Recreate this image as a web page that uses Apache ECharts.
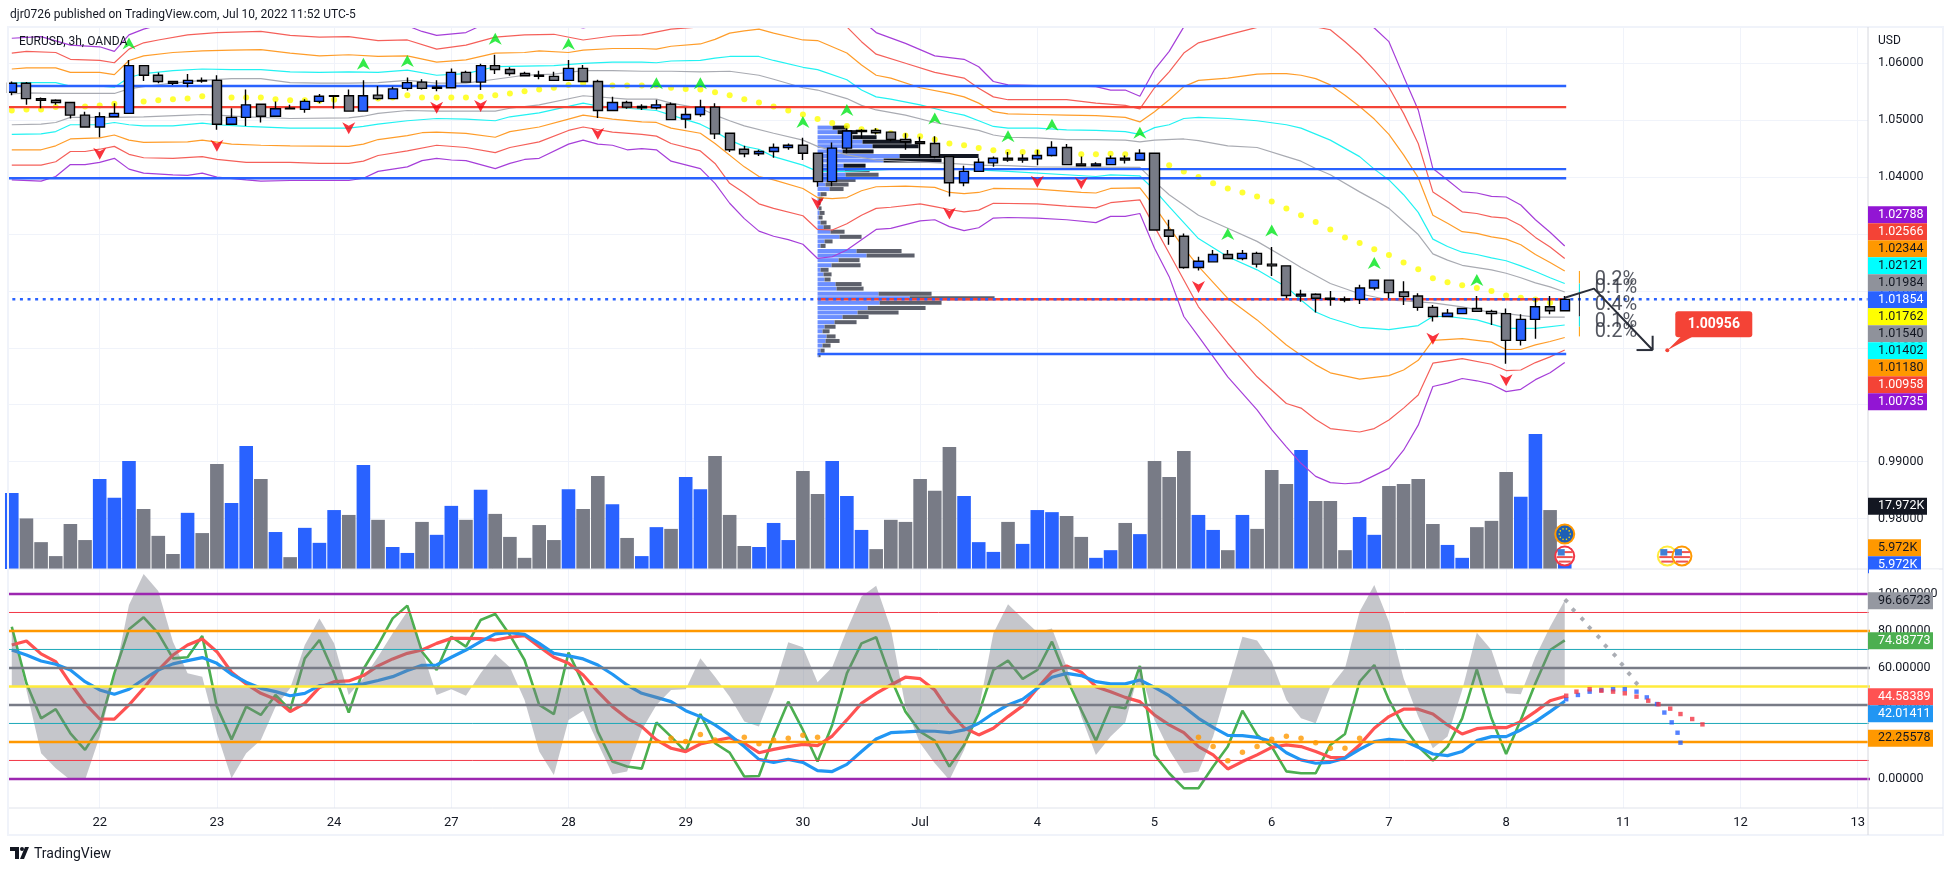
<!DOCTYPE html>
<html>
<head>
<meta charset="utf-8">
<title>EURUSD, 3h, OANDA</title>
<style>
  html, body { margin: 0; padding: 0; background: #fff; }
  #chart { width: 1954px; height: 871px; }
</style>
<script src="https://cdn.jsdelivr.net/npm/echarts@6/dist/echarts.min.js"></script>
</head>
<body>
<div id="chart"></div>
<script>
const FONT = 'Roboto';

// x axis counts 3h bars, bar 0 is the first bar of the 22nd
const firstBar = -6;
const dayBars = [0, 8, 16, 24, 32, 40, 48, 56, 64, 72, 80, 88, 96, 104, 112, 120];
const dayLabels = ['22', '23', '24', '27', '28', '29', '30', 'Jul', '4', '5', '6', '7', '8', '11', '12', '13'];

const barOpen = [
  1.0549,1.0565,1.0538,1.0535,1.0531,1.0509,1.0488,1.0506,1.0512,1.0596,
  1.0579,1.0568,1.0565,1.0570,1.0570,1.0493,1.0505,1.0528,1.0507,1.0521,
  1.0519,1.0533,1.0542,1.0543,1.0516,1.0544,1.0538,1.0556,1.0567,1.0556,
  1.0557,1.0584,1.0567,1.0596,1.0589,1.0582,1.0579,1.0577,1.0570,1.0591,
  1.0568,1.0517,1.0531,1.0522,1.0522,1.0528,1.0502,1.0510,1.0523,1.0477,
  1.0449,1.0441,1.0445,1.0452,1.0456,1.0442,1.0392,1.0451,1.0480,1.0482,
  1.0479,1.0466,1.0462,1.0459,1.0436,1.0390,1.0410,1.0425,1.0433,1.0430,
  1.0432,1.0438,1.0452,1.0423,1.0420,1.0422,1.0433,1.0430,1.0442,1.0307,
  1.0296,1.0241,1.0251,1.0264,1.0257,1.0266,1.0247,1.0244,1.0191,1.0194,
  1.0187,1.0186,1.0185,1.0205,1.0219,1.0198,1.0191,1.0171,1.0155,1.0160,
  1.0169,1.0164,1.0160,1.0113,1.0150,1.0172,1.0165
];
const barClose = [
  1.0565,1.0538,1.0535,1.0531,1.0509,1.0488,1.0506,1.0512,1.0596,1.0579,
  1.0568,1.0565,1.0570,1.0569,1.0493,1.0505,1.0527,1.0507,1.0520,1.0520,
  1.0533,1.0542,1.0543,1.0516,1.0543,1.0538,1.0555,1.0566,1.0556,1.0558,
  1.0584,1.0567,1.0596,1.0589,1.0582,1.0578,1.0577,1.0570,1.0591,1.0568,
  1.0517,1.0531,1.0523,1.0524,1.0527,1.0501,1.0510,1.0523,1.0476,1.0448,
  1.0441,1.0445,1.0452,1.0456,1.0442,1.0392,1.0451,1.0481,1.0482,1.0478,
  1.0466,1.0462,1.0459,1.0436,1.0390,1.0410,1.0426,1.0433,1.0430,1.0433,
  1.0438,1.0452,1.0422,1.0420,1.0423,1.0433,1.0430,1.0442,1.0307,1.0296,
  1.0241,1.0252,1.0264,1.0257,1.0266,1.0247,1.0244,1.0192,1.0194,1.0187,
  1.0185,1.0184,1.0205,1.0219,1.0197,1.0190,1.0171,1.0155,1.0161,1.0169,
  1.0164,1.0160,1.0113,1.0150,1.0172,1.0165,1.0185
];
const barLow = [
  1.0544,1.0527,1.0521,1.0527,1.0503,1.0488,1.0470,1.0505,1.0512,1.0569,
  1.0565,1.0562,1.0558,1.0566,1.0483,1.0493,1.0490,1.0496,1.0507,1.0519,
  1.0513,1.0530,1.0520,1.0516,1.0516,1.0536,1.0538,1.0552,1.0554,1.0551,
  1.0556,1.0567,1.0553,1.0581,1.0578,1.0577,1.0572,1.0570,1.0570,1.0568,
  1.0504,1.0516,1.0520,1.0518,1.0519,1.0501,1.0486,1.0506,1.0467,1.0444,
  1.0435,1.0437,1.0434,1.0448,1.0430,1.0383,1.0384,1.0442,1.0468,1.0475,
  1.0463,1.0448,1.0436,1.0433,1.0366,1.0384,1.0409,1.0418,1.0427,1.0425,
  1.0421,1.0436,1.0422,1.0420,1.0420,1.0422,1.0424,1.0430,1.0307,1.0281,
  1.0239,1.0236,1.0251,1.0257,1.0254,1.0241,1.0226,1.0187,1.0181,1.0162,
  1.0174,1.0180,1.0177,1.0201,1.0187,1.0175,1.0165,1.0146,1.0155,1.0160,
  1.0164,1.0140,1.0072,1.0104,1.0116,1.0159,1.0165
];
const barHigh = [
  1.0568,1.0567,1.0540,1.0537,1.0531,1.0515,1.0514,1.0530,1.0606,1.0596,
  1.0584,1.0568,1.0581,1.0575,1.0579,1.0521,1.0554,1.0528,1.0533,1.0527,
  1.0537,1.0546,1.0543,1.0554,1.0570,1.0560,1.0559,1.0575,1.0572,1.0570,
  1.0591,1.0587,1.0599,1.0615,1.0593,1.0585,1.0587,1.0585,1.0606,1.0597,
  1.0571,1.0541,1.0534,1.0528,1.0536,1.0531,1.0522,1.0536,1.0530,1.0477,
  1.0455,1.0448,1.0459,1.0459,1.0469,1.0442,1.0461,1.0486,1.0484,1.0486,
  1.0479,1.0477,1.0471,1.0472,1.0436,1.0420,1.0433,1.0436,1.0444,1.0440,
  1.0448,1.0463,1.0458,1.0436,1.0426,1.0438,1.0438,1.0449,1.0442,1.0325,
  1.0301,1.0260,1.0272,1.0272,1.0272,1.0269,1.0277,1.0244,1.0202,1.0196,
  1.0200,1.0190,1.0211,1.0220,1.0219,1.0217,1.0196,1.0175,1.0168,1.0169,
  1.0191,1.0167,1.0169,1.0159,1.0187,1.0191,1.0191
];

// volume, in thousands
const volume = [
  21.8,14.5,7.7,3.7,12.9,8.3,25.8,20.4,31.0,17.2,
  9.5,4.3,16.1,10.3,30.1,18.9,35.3,25.8,10.6,3.4,
  11.8,7.5,16.9,15.5,29.8,14.1,6.3,4.6,13.5,9.8,
  18.1,14.1,22.7,15.8,9.2,3.2,12.6,8.3,22.9,17.2,
  26.7,18.6,8.9,3.7,12.0,11.5,26.4,22.9,32.4,15.5,
  6.6,6.3,13.2,8.3,28.1,21.5,31.0,20.9,11.2,5.7,
  14.1,13.5,25.8,22.4,35.0,20.9,7.7,4.9,13.5,7.2,
  16.9,16.3,15.2,9.2,3.2,5.4,13.2,10.0,31.0,26.4,
  33.8,15.5,11.2,5.4,15.5,11.5,28.4,24.4,34.1,19.5,
  19.5,5.4,14.9,9.8,23.8,24.4,25.8,12.9,6.9,3.2,
  12.0,13.8,27.8,20.7,38.7,16.9,5.972
];
const volumeMa = [
  [-6,14.8],[-5,14.7],[-3,12.9],[-1,11.4],[1,13.0],[3,14.2],[5,13.0],[7,13.4],[9,15.5],[11,17.6],
  [13,16.3],[15,15.5],[17,16.6],[19,17.8],[21,15.9],[23,14.6],[25,15.8],[27,16.3],[29,14.7],[31,12.3],
  [33,14.1],[35,15.2],[37,14.1],[38,13.1],[39,13.0],[41,14.5],[43,16.3],[45,15.4],[47,14.3],[49,15.8],
  [51,17.8],[53,16.6],[55,15.7],[57,17.4],[59,19.2],[61,17.6],[63,15.9],[65,16.9],[67,17.1],[69,15.2],
  [71,13.7],[72,14.5],[74,16.7],[75,16.8],[77,15.2],[79,13.8],[81,15.5],[82,16.7],[84,17.6],[85,16.9],
  [87,16.9],[89,19.0],[91,19.7],[94,16.2],[95,16.2],[98,19.0],[99,19.2],[100,17.972]
];

// envelope bands, [bar, price]; the parts outside the pane are estimates
const purpleUp = [
  [-6,1.0644],[-4,1.0647],[-2,1.0632],[0,1.0629],[1,1.0621],[2,1.0650],[3,1.0660],[4,1.0667],[8,1.0682],[14,1.0685],
  [20,1.0676],[22,1.0656],[23,1.0649],[25,1.0654],[26,1.0666],[30,1.0670],[32,1.0667],[33,1.0662],[34,1.0667],[40,1.0688],
  [48,1.0694],[52,1.0676],[53,1.0654],[55,1.0635],[57,1.0613],[59,1.0607],[60,1.0594],[61,1.0568],[62,1.0562],[64,1.0561],
  [67,1.0560],[68,1.0559],[69,1.0553],[70,1.0553],[71,1.0542],[72,1.0589],[73,1.0621],[74,1.0664],[76,1.0700],[84,1.0700],
  [87,1.0662],[88,1.0638],[89,1.0577],[90,1.0518],[91,1.0415],[92,1.0395],[93,1.0374],[94,1.0372],[95,1.0366],[96,1.0365],
  [97,1.0351],[98,1.0325],[99,1.0303],[100,1.0279]
];
const redUp = [
  [-6,1.0618],[-5,1.0621],[-3,1.0619],[-2,1.0607],[0,1.0605],[1,1.0601],[2,1.0625],[3,1.0636],[4,1.0641],[6,1.0650],
  [8,1.0654],[11,1.0656],[13,1.0649],[15,1.0646],[17,1.0647],[19,1.0640],[21,1.0641],[23,1.0625],[25,1.0632],[27,1.0646],
  [29,1.0650],[31,1.0651],[33,1.0641],[35,1.0648],[37,1.0650],[39,1.0660],[41,1.0664],[44,1.0676],[48,1.0685],[50,1.0673],
  [51,1.0664],[52,1.0638],[53,1.0616],[55,1.0600],[57,1.0584],[59,1.0574],[60,1.0556],[61,1.0541],[62,1.0536],[64,1.0536],
  [66,1.0536],[68,1.0530],[70,1.0526],[71,1.0520],[72,1.0557],[73,1.0585],[74,1.0618],[75,1.0636],[77,1.0650],[79,1.0663],
  [81,1.0673],[83,1.0664],[84,1.0659],[85,1.0638],[86,1.0615],[87,1.0588],[88,1.0558],[89,1.0512],[90,1.0459],[91,1.0374],
  [92,1.0357],[93,1.0339],[94,1.0336],[95,1.0330],[96,1.0328],[97,1.0315],[98,1.0294],[99,1.0277],[100,1.0257]
];
const orangeUp = [
  [-6,1.0590],[-5,1.0592],[-3,1.0592],[-2,1.0584],[0,1.0584],[1,1.0580],[2,1.0605],[3,1.0613],[5,1.0619],[7,1.0622],
  [9,1.0623],[11,1.0624],[13,1.0618],[15,1.0613],[17,1.0615],[19,1.0612],[21,1.0613],[23,1.0602],[25,1.0606],[27,1.0618],
  [29,1.0619],[30,1.0622],[32,1.0619],[33,1.0623],[35,1.0626],[37,1.0626],[38,1.0625],[39,1.0630],[41,1.0634],[42,1.0642],
  [43,1.0653],[44,1.0657],[45,1.0660],[46,1.0653],[48,1.0641],[49,1.0640],[51,1.0618],[52,1.0597],[53,1.0579],[54,1.0574],
  [56,1.0557],[58,1.0547],[59,1.0541],[60,1.0530],[61,1.0515],[62,1.0511],[64,1.0510],[66,1.0509],[68,1.0508],[70,1.0505],
  [71,1.0497],[72,1.0515],[73,1.0536],[74,1.0559],[75,1.0570],[77,1.0574],[79,1.0581],[80,1.0582],[81,1.0582],[82,1.0579],
  [83,1.0573],[84,1.0562],[85,1.0544],[86,1.0524],[87,1.0502],[88,1.0475],[89,1.0439],[90,1.0399],[91,1.0333],[92,1.0319],
  [93,1.0304],[94,1.0301],[95,1.0295],[96,1.0291],[97,1.0281],[98,1.0264],[99,1.0250],[100,1.0235]
];
const cyanUp = [
  [-6,1.0565],[-5,1.0566],[-3,1.0566],[-2,1.0560],[0,1.0560],[1,1.0558],[2,1.0575],[3,1.0582],[5,1.0587],[7,1.0590],
  [9,1.0589],[11,1.0589],[13,1.0585],[15,1.0584],[17,1.0585],[19,1.0584],[21,1.0588],[23,1.0579],[25,1.0582],[27,1.0594],
  [29,1.0595],[31,1.0596],[33,1.0600],[35,1.0602],[37,1.0602],[38,1.0601],[39,1.0604],[41,1.0605],[42,1.0609],[43,1.0612],
  [45,1.0612],[46,1.0605],[48,1.0593],[49,1.0589],[51,1.0571],[52,1.0553],[53,1.0541],[54,1.0537],[56,1.0527],[58,1.0514],
  [59,1.0509],[60,1.0499],[61,1.0489],[62,1.0486],[64,1.0486],[66,1.0483],[68,1.0482],[70,1.0480],[71,1.0475],[72,1.0487],
  [73,1.0492],[74,1.0503],[75,1.0505],[77,1.0503],[79,1.0499],[81,1.0492],[82,1.0486],[84,1.0465],[86,1.0436],[87,1.0414],
  [88,1.0395],[89,1.0369],[90,1.0338],[91,1.0291],[92,1.0278],[93,1.0268],[94,1.0264],[95,1.0258],[96,1.0253],[97,1.0244],
  [98,1.0234],[99,1.0223],[100,1.0213]
];
const grayUp = [
  [-6,1.0546],[-5,1.0548],[-3,1.0547],[0,1.0547],[1,1.0547],[2,1.0555],[3,1.0559],[5,1.0565],[7,1.0570],[9,1.0573],
  [11,1.0573],[13,1.0566],[15,1.0565],[17,1.0565],[19,1.0566],[21,1.0570],[23,1.0565],[25,1.0565],[27,1.0572],[29,1.0579],
  [31,1.0581],[33,1.0587],[35,1.0587],[37,1.0586],[39,1.0586],[41,1.0585],[43,1.0586],[45,1.0579],[46,1.0572],[48,1.0557],
  [49,1.0553],[51,1.0538],[52,1.0526],[53,1.0518],[55,1.0509],[57,1.0496],[59,1.0487],[60,1.0482],[61,1.0474],[62,1.0470],
  [64,1.0469],[66,1.0466],[68,1.0466],[70,1.0465],[71,1.0462],[72,1.0465],[74,1.0467],[75,1.0464],[77,1.0455],[79,1.0452],
  [81,1.0436],[82,1.0428],[83,1.0415],[84,1.0404],[86,1.0374],[87,1.0360],[88,1.0345],[89,1.0322],[90,1.0299],[91,1.0265],
  [92,1.0254],[93,1.0245],[94,1.0241],[95,1.0237],[96,1.0231],[97,1.0223],[98,1.0214],[99,1.0207],[100,1.0198]
];
const grayLow = [
  [-6,1.0492],[-4,1.0493],[-3,1.0496],[-2,1.0505],[0,1.0505],[1,1.0505],[3,1.0506],[6,1.0509],[7,1.0510],[8,1.0509],
  [10,1.0506],[13,1.0503],[17,1.0504],[18,1.0507],[19,1.0512],[21,1.0517],[23,1.0516],[27,1.0516],[28,1.0521],[30,1.0527],
  [33,1.0543],[36,1.0537],[38,1.0537],[39,1.0530],[41,1.0521],[42,1.0509],[43,1.0499],[44,1.0490],[46,1.0477],[48,1.0465],
  [49,1.0454],[51,1.0439],[53,1.0430],[58,1.0424],[60,1.0421],[62,1.0420],[64,1.0418],[71,1.0417],[72,1.0392],[73,1.0369],
  [75,1.0333],[77,1.0310],[79,1.0287],[81,1.0257],[82,1.0241],[84,1.0213],[86,1.0195],[88,1.0184],[91,1.0179],[93,1.0172],
  [95,1.0162],[96,1.0160],[98,1.0154],[100,1.0154]
];
const cyanLow = [
  [-6,1.0475],[-4,1.0476],[-3,1.0480],[-2,1.0492],[0,1.0492],[1,1.0496],[2,1.0492],[3,1.0490],[5,1.0490],[7,1.0495],
  [8,1.0492],[10,1.0489],[13,1.0486],[17,1.0486],[18,1.0489],[19,1.0493],[21,1.0499],[23,1.0503],[25,1.0502],[27,1.0499],
  [28,1.0506],[30,1.0513],[33,1.0530],[34,1.0525],[36,1.0521],[38,1.0517],[39,1.0509],[41,1.0493],[42,1.0480],[43,1.0465],
  [44,1.0454],[45,1.0449],[46,1.0436],[48,1.0421],[49,1.0410],[51,1.0410],[55,1.0415],[58,1.0415],[62,1.0410],[68,1.0401],
  [69,1.0404],[71,1.0402],[72,1.0377],[73,1.0348],[75,1.0292],[77,1.0260],[79,1.0237],[81,1.0207],[82,1.0184],[83,1.0163],
  [84,1.0152],[86,1.0136],[88,1.0132],[90,1.0139],[91,1.0155],[92,1.0155],[94,1.0149],[96,1.0134],[98,1.0134],[100,1.0140]
];
const orangeLow = [
  [-6,1.0448],[-4,1.0448],[-3,1.0455],[-2,1.0467],[0,1.0469],[1,1.0474],[2,1.0465],[3,1.0461],[6,1.0462],[7,1.0465],
  [9,1.0458],[11,1.0456],[13,1.0455],[17,1.0454],[18,1.0458],[19,1.0466],[21,1.0473],[22,1.0478],[23,1.0479],[25,1.0477],
  [27,1.0470],[28,1.0480],[30,1.0488],[32,1.0502],[33,1.0509],[35,1.0502],[37,1.0497],[38,1.0496],[39,1.0486],[41,1.0477],
  [42,1.0459],[44,1.0418],[45,1.0401],[46,1.0395],[48,1.0380],[49,1.0364],[50,1.0362],[51,1.0364],[52,1.0376],[53,1.0383],
  [55,1.0384],[57,1.0382],[58,1.0373],[59,1.0371],[60,1.0373],[61,1.0380],[64,1.0379],[67,1.0373],[68,1.0372],[69,1.0380],
  [71,1.0381],[72,1.0348],[74,1.0275],[75,1.0243],[77,1.0187],[79,1.0149],[81,1.0105],[82,1.0087],[83,1.0070],[84,1.0056],
  [86,1.0045],[88,1.0051],[89,1.0061],[90,1.0078],[91,1.0113],[93,1.0116],[95,1.0110],[96,1.0097],[97,1.0097],[98,1.0105],
  [99,1.0111],[100,1.0118]
];
const redLow = [
  [-6,1.0421],[-4,1.0421],[-3,1.0427],[-2,1.0445],[-1,1.0445],[0,1.0449],[1,1.0454],[2,1.0440],[3,1.0434],[5,1.0433],
  [7,1.0436],[8,1.0431],[10,1.0426],[13,1.0426],[15,1.0424],[17,1.0424],[18,1.0428],[19,1.0438],[21,1.0446],[23,1.0456],
  [25,1.0452],[27,1.0443],[28,1.0452],[30,1.0462],[32,1.0482],[33,1.0488],[35,1.0479],[37,1.0475],[38,1.0472],[39,1.0459],
  [41,1.0446],[42,1.0424],[43,1.0389],[44,1.0372],[45,1.0353],[46,1.0345],[48,1.0332],[49,1.0308],[50,1.0307],[51,1.0318],
  [52,1.0333],[53,1.0345],[54,1.0347],[56,1.0353],[57,1.0348],[58,1.0343],[59,1.0339],[60,1.0342],[61,1.0354],[64,1.0353],
  [66,1.0349],[68,1.0346],[69,1.0355],[71,1.0360],[72,1.0313],[73,1.0266],[74,1.0219],[75,1.0172],[77,1.0108],[79,1.0049],
  [81,1.0002],[82,0.9994],[83,0.9974],[84,0.9958],[86,0.9952],[87,0.9958],[88,0.9973],[89,0.9994],[90,1.0017],[91,1.0073],
  [93,1.0081],[95,1.0071],[96,1.0060],[97,1.0061],[98,1.0074],[99,1.0084],[100,1.0096]
];
const purpleLow = [
  [-6,1.0395],[-4,1.0393],[-3,1.0401],[-2,1.0422],[-1,1.0422],[0,1.0426],[1,1.0433],[2,1.0414],[3,1.0407],[5,1.0404],
  [6,1.0403],[7,1.0407],[8,1.0400],[10,1.0395],[11,1.0393],[13,1.0394],[17,1.0394],[18,1.0398],[19,1.0410],[21,1.0418],
  [22,1.0429],[23,1.0433],[24,1.0430],[25,1.0429],[27,1.0415],[28,1.0424],[29,1.0431],[30,1.0433],[32,1.0458],[33,1.0465],
  [34,1.0458],[35,1.0456],[36,1.0448],[37,1.0450],[38,1.0448],[39,1.0428],[41,1.0415],[42,1.0389],[43,1.0354],[44,1.0327],
  [45,1.0305],[46,1.0296],[47,1.0290],[48,1.0282],[49,1.0257],[50,1.0260],[51,1.0272],[52,1.0290],[53,1.0308],[54,1.0310],
  [56,1.0323],[57,1.0325],[58,1.0313],[59,1.0306],[60,1.0311],[61,1.0328],[62,1.0329],[64,1.0328],[66,1.0325],[68,1.0320],
  [69,1.0331],[70,1.0331],[71,1.0336],[72,1.0275],[73,1.0225],[74,1.0155],[75,1.0120],[77,1.0049],[79,0.9991],[80,0.9956],
  [81,0.9926],[82,0.9897],[83,0.9874],[84,0.9863],[85,0.9861],[86,0.9863],[88,0.9888],[89,0.9920],[90,0.9964],[91,1.0032],
  [92,1.0038],[93,1.0046],[94,1.0042],[95,1.0036],[96,1.0023],[97,1.0027],[98,1.0044],[99,1.0056],[100,1.0074]
];
const yellowDots = [
  1.0517,1.0519,1.0519,1.0523,1.0524,1.0524,1.0526,1.0529,1.0532,1.0533,
  1.0535,1.0537,1.0538,1.0542,1.0541,1.0540,1.0540,1.0540,1.0537,1.0535,
  1.0535,1.0534,1.0536,1.0537,1.0537,1.0538,1.0540,1.0544,1.0540,1.0540,
  1.0540,1.0540,1.0541,1.0544,1.0547,1.0551,1.0554,1.0557,1.0562,1.0565,
  1.0562,1.0561,1.0561,1.0561,1.0561,1.0557,1.0555,1.0554,1.0549,1.0544,
  1.0537,1.0531,1.0524,1.0517,1.0510,1.0502,1.0495,1.0490,1.0484,1.0481,
  1.0477,1.0473,1.0472,1.0466,1.0459,1.0456,1.0451,1.0447,1.0444,1.0444,
  1.0444,1.0442,1.0441,1.0440,1.0440,1.0441,1.0440,1.0436,1.0430,1.0421,
  1.0410,1.0400,1.0389,1.0380,1.0373,1.0366,1.0357,1.0345,1.0333,1.0321,
  1.0308,1.0294,1.0284,1.0273,1.0263,1.0250,1.0238,1.0222,1.0215,1.0210,
  1.0205,1.0200,1.0192,1.0188,1.0185,1.0179,1.0176
];

const arrowsUp = [
  [2,1.0635],[18,1.0599],[21,1.0604],[27,1.0643],[32,1.0634],[38,1.0565],[41,1.0565],[48,1.0497],[51,1.0518],
  [57,1.0503],[62,1.0472],[65,1.0492],[71,1.0478],[77,1.0300],[80,1.0306],[87,1.0249],[94,1.0219]
];
const arrowsDown = [
  [0,1.0441],[8,1.0455],[17,1.0486],[23,1.0522],[26,1.0525],[34,1.0476],[49,1.0354],[58,1.0336],[64,1.0392],
  [67,1.0389],[75,1.0207],[91,1.0116],[96,1.0043]
];

// horizontal levels: [from bar, price]
const blueLevels = [[-7,1.0560],[-7,1.0398],[49,1.0414],[49,1.0089]];
const redLevels = [[-7,1.0523],[49,1.01854]];
const levelEnd = 100.1;
const lastPrice = 1.01854;

// volume profile rows at bar 49
const vpPrice = [
  1.0487,1.0479,1.0470,1.0462,1.0454,1.0445,1.0437,1.0429,1.0420,1.0412,
  1.0404,1.0395,1.0387,1.0379,1.0370,1.0362,1.0354,1.0345,1.0337,1.0329,
  1.0320,1.0312,1.0304,1.0295,1.0287,1.0279,1.0270,1.0262,1.0254,1.0245,
  1.0237,1.0229,1.0220,1.0212,1.0204,1.0195,1.0187,1.0179,1.0170,1.0162,
  1.0154,1.0145,1.0137,1.0129,1.0120,1.0112,1.0104,1.0095,1.0087
];
const vpUp = [
  15,20,35,45,55,25,82,66,26,27,
  28,9,8,12,3,1,1,1,2,1,
  3,6,13,22,7,3,39,49,21,14,
  3,6,7,18,19,61,92,62,50,40,
  25,17,7,5,9,8,5,3,1
];
const vpDown = [
  15,20,24,49,46,31,79,58,22,25,
  33,29,23,14,6,4,2,3,5,4,
  6,7,14,22,8,5,45,48,21,29,
  8,8,6,26,27,53,85,62,58,41,
  26,22,11,7,9,14,8,4,2
];
const vpStart = 49;
const vpUnit = 1 / 14.65;

// the small range marker after the last bar
const rangeBar = 101;
const rangeLevels = [1.0235, 1.0213, 1.0196, 1.0155, 1.0137, 1.0120];
const rangeColors = ['#ff9800', '#00e5e5', '#131722', '#00e5e5', '#ff9800'];
const rangeTexts = ['0.2%', '0.1%', '0.4%', '0.1%', '0.2%'];
const rangeTextPrices = [1.0219, 1.0205, 1.0175, 1.0145, 1.0128];
const forecastPath = [[100,1.0188],[102,1.0204],[106,1.0096],[106,1.0121]];
const forecastHead = [[104.9,1.0096],[106,1.0096]];
const targetBar = 107;
const targetPrice = 1.00956;

const priceTicks = [0.98, 0.99, 1.00, 1.01, 1.02, 1.03, 1.04, 1.05, 1.06];
const oscTicks = [0, 20, 40, 60, 80, 100];

const priceTags = ['1.02788','1.02566','1.02344','1.02121','1.01984','1.01854','1.01762','1.01540','1.01402','1.01180','1.00958','1.00735'];
const priceTagBg = ['#9215d4','#f44336','#ff9800','#00ffff','#8f929b','#2962ff','#ffff00','#8f929b','#00ffff','#ff9800','#f44336','#9215d4'];
const priceTagFg = ['#fff','#fff','#131722','#131722','#131722','#fff','#131722','#131722','#131722','#131722','#fff','#fff'];

// oscillator pane
const oscLevels = [100, 90, 80, 70, 60, 50, 40, 30, 20, 10, 0];
const oscLevelColors = ['#9c27b0','#f23645','#ff9800','#1ca8b8','#787b86','#ffeb3b','#787b86','#1ca8b8','#ff9800','#f23645','#9c27b0'];
const oscLevelWidths = [2.4, 1, 2.4, 1, 2.4, 2.4, 2.4, 1, 2.4, 1, 2.4];

const oscArea = [
  81.4,48.1,13.9,5.8,-0.5,-0.5,22.9,55.3,94.1,110.8,
  101.6,74.2,57.1,55.3,24.7,0.4,13.9,21.1,39.1,49,
  72.4,86.8,73.3,45.4,54.4,66.1,78.7,90.5,69.7,45.4,
  48.5,45,57.1,67.6,60.4,42.7,14.8,2.2,31.9,36.9,
  19.3,2.5,4,26.5,40,
  48.1,48.5,65.2,55.3,44.5,31,28.3,48.1,73.9,71.2,
  52.3,60.4,80.5,98.6,104.5,81.4,39.1,19.3,8.5,-0.5,
  15.7,37.3,78.7,94.4,86.8,79.3,81.4,60.7,33.7,13,
  22.9,30.5,59.8,31.9,15.7,3.1,4,22.9,49.9,76.9,
  74.8,63.4,42.7,32.8,
  30.1,49.9,59.8,90.5,104.9,85,54.4,33.7,16.6,22.9,
  48.1,79.1,69.7,46.3,45.8,66.1,82.3,96.67
];
const oscGreen = [
  82.3,51.7,32.8,37.7,24.7,15.7,28.3,57.1,80.9,87.4,
  78.7,65.2,65.8,77.3,39.1,21.4,39.1,34.6,45.4,37.3,
  65.2,75.1,57.1,35.9,59.3,72.4,86.8,93.7,68.8,58.9,
  76.9,71.5,85.9,89.2,77.8,64.3,40,35,68.3,51.7,
  25.6,9.4,6.7,5.6,30.5,
  22.9,14.8,35.1,19.3,14.2,1.3,1.6,22.9,41.8,26.5,
  9.4,29.2,57.1,73.3,76.6,54.4,36.4,25.6,20.7,6.7,
  18.4,35.5,58.9,64,54.1,58.9,74.2,54.4,37.3,20.7,
  39.5,38.2,61.1,13,3.1,-5,-5,6.7,17.5,36.9,
  23.8,17.5,4.1,3.1,
  3.1,18.4,24.3,52.6,61.6,42.7,28.3,17.5,9.9,17.5,
  32.8,59.3,32.8,13.5,31.9,51.7,69.7,74.89
];
const oscRed = [
  72.4,74.6,67.6,63.4,51.7,40.9,32.4,32.3,40,49,
  58.9,67,72.4,75.7,68.8,57.7,51.4,46.3,43.1,36.4,
  40.9,49.5,52.6,53,55.9,61.1,64.9,67.9,69.7,73.3,
  76,76,75.9,75.1,76.6,77.5,71.5,65.8,62.5,56.2,
  47.2,39.1,32.8,28.3,21.1,
  16.6,14.8,18.9,20.7,22.3,19.3,14.2,16,17.5,18.7,
  18,23.2,31.9,40.9,46.3,50.8,55,54.2,48.1,36.4,
  27.7,23.8,27.4,33.7,39.5,49,58,61.1,57.7,49.9,
  47.2,44.1,41.8,34.6,29.2,25,17.5,13,5.4,9.4,
  13,17.1,18.4,17.5,
  14.8,11.7,11.5,18.4,27.4,33.7,37.7,37.7,35.1,29.2,
  24.3,27.2,27.9,27.7,31,36.4,42.3,44.58
];
const oscBlue = [
  69.7,67,63.8,62,58.9,52.6,48.1,45.8,48.5,53.9,
  58.9,62.2,64,65.6,62.5,56.6,52.3,49,47.2,45,
  46.3,50.5,50.8,50.6,51.4,53.2,55.3,58.6,61.4,61.6,
  65.8,69.7,74.2,78.4,79.1,78.2,73.3,67.9,66.5,64.9,
  61.6,56.6,50.8,46.3,44.1,
  41.8,36.9,33.7,29.2,23.8,17.5,10.6,9,10.6,9,
  4.5,4,7.9,14.8,21.6,25,25.4,25.9,25.8,25,
  26.5,30.1,35.5,40,43.1,49,55,57.1,55.9,52.6,
  51.4,51.4,53.5,49.5,45,39.1,32.8,27.9,23.6,23.4,
  22.5,20.2,14.2,10.3,
  8.5,9,11.2,16,20.2,21.4,20.7,17.1,13.5,12.6,
  14.8,20.7,22.9,22.9,26.5,31,36.4,42.01
];
const oscOrangeDots = [
  [39,22],[40,20.2],[41,24.1],[42,21.1],[44,22.5],[45,19.1],[46,21.1],[47,22],[48,23.6],[49,22.5],
  [75,22.5],[76,17.5],[77,9.9],[78,14.4],[79,17.5],[80,21.4],[81,23.1],[82,22],[83,19.6],[84,16.6],[85,16.6],[86,22]
];
const forecastGray = [
  [100.1,96.4],[100.6,91.4],[101.2,86.5],[101.7,81.8],[102.3,76.9],[102.8,71.9],[103.4,67],[103.9,62],[104.4,56.9],[104.9,51.7]
];
const forecastBlue = [
  [100.1,43.1],[100.9,45.4],[101.7,47.2],[102.5,48.1],[103.3,48.5],[104.1,48.5],[104.9,47.2],[105.6,44.1],[106.3,40.5],
  [106.8,35.9],[107.3,30.6],[107.7,25],[107.9,19.6]
];
const forecastRed = [
  [100.1,45],[100.8,47.2],[101.7,48.5],[102.5,47.7],[103.3,47.2],[104.1,46.3],[104.9,44.5],[105.7,42.3],[106.4,40.4],
  [107.2,38],[107.9,35.1],[108.7,32.4],[109.4,29.5]
];
const oscTags = ['96.66723','74.88773','44.58389','42.01411','22.25578'];
const oscTagY = [600.7, 640.7, 696.7, 713.7, 738.3];
const oscTagBg = ['#9598a1','#4caf50','#ff5252','#2196f3','#ff9800'];
const oscTagFg = ['#131722','#fff','#fff','#fff','#131722'];

// event flags: [bar, height on the volume scale, kind, ring colour]
const flags = [
  [100, 10, 'eu', '#ff9800'],
  [100, 3.7, 'us', '#f23645'],
  [107, 3.7, 'us', '#ffeb3b'],
  [108, 3.7, 'us', '#ff9800']
];

const BLUE = '#2962ff';
const GRAY = '#787b86';
const INK = '#131722';

const xIndex = function(k) { return firstBar + k; };
const seq = function(vals) { return vals.map(function(v, k) { return [xIndex(k), v]; }); };

const candles = barOpen.map(function(o, k) {
  return [xIndex(k), o, barClose[k], barLow[k], barHigh[k]];
});
const volumeBars = volume.map(function(v, k) {
  return {
    value: [xIndex(k), v],
    itemStyle: { color: barClose[k] >= barOpen[k] ? BLUE : GRAY }
  };
});
const vpRows = vpPrice.map(function(p, k) { return [vpStart, p, vpUp[k], vpDown[k]]; });

function priceLine(data, color, width, z) {
  return {
    type: 'line', data: data, xAxisIndex: 0, yAxisIndex: 0, symbol: 'none', silent: true,
    lineStyle: { color: color, width: width }, z: z
  };
}
function oscLine(data, color, width, z) {
  return {
    type: 'line', data: data, xAxisIndex: 1, yAxisIndex: 2, symbol: 'none', silent: true,
    lineStyle: { color: color, width: width }, z: z
  };
}
function oscDots(data, color, size, symbol, z) {
  return {
    type: 'scatter', data: data, xAxisIndex: 1, yAxisIndex: 2, symbol: symbol, symbolSize: size, silent: true,
    itemStyle: { color: color }, z: z
  };
}

const arrowPath = 'path://M5 0 L10 10 L5 7 L0 10 Z';

function renderProfile(params, api) {
  const price = api.value(1);
  const a = api.coord([api.value(0), price]);
  const b = api.coord([api.value(0) + api.value(2) * vpUnit, price]);
  const c = api.coord([api.value(0) + (api.value(2) + api.value(3)) * vpUnit, price]);
  const dark = price > 1.0415;
  return {
    type: 'group',
    children: [
      { type: 'rect', shape: { x: a[0], y: a[1] - 2, width: b[0] - a[0], height: 4 }, style: { fill: '#6c8fff' } },
      { type: 'rect', shape: { x: b[0], y: a[1] - 2, width: c[0] - b[0], height: 4 }, style: { fill: dark ? '#131722' : '#5d606b' } }
    ]
  };
}

function renderTarget(params, api) {
  const p = api.coord([api.value(0), api.value(1)]);
  const x = p[0], y = p[1];
  return {
    type: 'group',
    children: [
      { type: 'polygon', shape: { points: [[x, y], [x + 14, y - 14], [x + 26, y - 14]] }, style: { fill: '#f44336' } },
      { type: 'rect', shape: { x: x + 8, y: y - 39, width: 77, height: 26, r: 3 }, style: { fill: '#f44336' } },
      { type: 'circle', shape: { cx: x, cy: y, r: 2 }, style: { fill: '#f44336' } },
      {
        type: 'text', x: x + 46.5, y: y - 26,
        style: { text: targetPrice.toFixed(5), fill: '#fff', font: 'bold 14px ' + FONT, textAlign: 'center', textVerticalAlign: 'middle' }
      }
    ]
  };
}

function renderFlag(params, api) {
  const p = api.coord([api.value(0), api.value(1)]);
  const x = p[0], y = p[1];
  const f = flags[params.dataIndex];
  const kids = [];
  if (f[2] === 'eu') {
    kids.push({ type: 'circle', shape: { cx: x, cy: y, r: 9.5 }, style: { fill: '#1d5fb4', stroke: f[3], lineWidth: 2 } });
    for (let a = 0; a < 10; a++) {
      kids.push({
        type: 'circle',
        shape: { cx: x + 5.5 * Math.cos(a * Math.PI / 5), cy: y + 5.5 * Math.sin(a * Math.PI / 5), r: 0.8 },
        style: { fill: '#ffd500' }
      });
    }
  } else {
    kids.push({ type: 'circle', shape: { cx: x, cy: y, r: 9.5 }, style: { fill: '#fff', stroke: f[3], lineWidth: 2 } });
    kids.push({ type: 'rect', shape: { x: x - 1, y: y - 5, width: 9, height: 2 }, style: { fill: '#ef5350' } });
    kids.push({ type: 'rect', shape: { x: x - 8, y: y + 0, width: 16, height: 2 }, style: { fill: '#ef5350' } });
    kids.push({ type: 'rect', shape: { x: x - 6, y: y + 4.5, width: 12, height: 2 }, style: { fill: '#ef5350' } });
    kids.push({ type: 'rect', shape: { x: x - 7, y: y - 7, width: 7, height: 6.5 }, style: { fill: '#3f7fd6' } });
  }
  return { type: 'group', children: kids };
}

const series = [
  {
    type: 'bar', data: volumeBars, xAxisIndex: 0, yAxisIndex: 1, barWidth: 13.6, silent: true, z: 1
  },
  priceLine(volumeMa, '#2a2e39', 1, 2),
  {
    type: 'custom', data: vpRows, xAxisIndex: 0, yAxisIndex: 0, renderItem: renderProfile,
    encode: { x: 0, y: 1 }, silent: true, z: 2
  },
  {
    type: 'scatter', data: seq(yellowDots), xAxisIndex: 0, yAxisIndex: 0, symbolSize: 6, silent: true,
    itemStyle: { color: '#ffff00' }, z: 2
  },
  priceLine(purpleUp, '#a63fd9', 1.2, 3),
  priceLine(redUp, '#f5605a', 1.2, 3),
  priceLine(orangeUp, '#ff9d2a', 1.2, 3),
  priceLine(cyanUp, '#22f2f2', 1.2, 3),
  priceLine(grayUp, '#a9abb2', 1.2, 3),
  priceLine(grayLow, '#a9abb2', 1.2, 3),
  priceLine(cyanLow, '#22f2f2', 1.2, 3),
  priceLine(orangeLow, '#ff9d2a', 1.2, 3),
  priceLine(redLow, '#f5605a', 1.2, 3),
  priceLine(purpleLow, '#a63fd9', 1.2, 3)
];

blueLevels.forEach(function(l) {
  series.push(priceLine([[l[0], l[1]], [levelEnd, l[1]]], BLUE, 2.4, 4));
});
redLevels.forEach(function(l) {
  series.push(priceLine([[l[0], l[1]], [levelEnd, l[1]]], '#f44336', 2.4, 4));
});

series.push({
  type: 'line', data: [[-7, lastPrice], [121, lastPrice]], xAxisIndex: 0, yAxisIndex: 0, symbol: 'none', silent: true,
  lineStyle: { color: BLUE, width: 2.6, type: [3, 4.6] }, z: 5
});

series.push({
  type: 'candlestick', data: candles, xAxisIndex: 0, yAxisIndex: 0, barWidth: 9.6, silent: true,
  encode: { x: 0, y: [1, 2, 3, 4] },
  itemStyle: { color: BLUE, color0: GRAY, borderColor: '#000', borderColor0: '#000', borderWidth: 1.4 },
  z: 6
});

series.push({
  type: 'scatter', data: arrowsUp, xAxisIndex: 0, yAxisIndex: 0, symbol: arrowPath, symbolSize: [13, 12], silent: true,
  itemStyle: { color: '#00e61a' }, z: 7
});
series.push({
  type: 'scatter', data: arrowsDown, xAxisIndex: 0, yAxisIndex: 0, symbol: arrowPath, symbolSize: [13, 12], symbolRotate: 180, silent: true,
  itemStyle: { color: '#f7000d' }, z: 7
});

// range marker and the forecast drawing
rangeColors.forEach(function(c, k) {
  series.push(priceLine([[rangeBar, rangeLevels[k]], [rangeBar, rangeLevels[k + 1]]], c, 1, 7));
});
series.push(priceLine(forecastPath, '#2a2e39', 2, 8));
series.push(priceLine(forecastHead, '#2a2e39', 2, 8));
series.push({
  type: 'scatter', xAxisIndex: 0, yAxisIndex: 0, symbolSize: 1, silent: true, z: 9,
  data: rangeTexts.map(function(t, k) {
    return { value: [103.5, rangeTextPrices[k]], label: { show: true, formatter: t } };
  }),
  itemStyle: { color: 'transparent' },
  label: { position: 'inside', fontFamily: FONT, fontSize: 20, color: '#2a2e39' }
});
series.push({
  type: 'custom', data: [[targetBar, targetPrice]], xAxisIndex: 0, yAxisIndex: 0, renderItem: renderTarget,
  encode: { x: 0, y: 1 }, silent: true, z: 9
});
series.push({
  type: 'custom', data: flags.map(function(f) { return [f[0], f[1]]; }), xAxisIndex: 0, yAxisIndex: 1, renderItem: renderFlag,
  encode: { x: 0, y: 1 }, silent: true, z: 9
});

// oscillator: lines sit under the shaded band, the levels on top of both
series.push(oscLine(seq(oscGreen), '#4caf50', 2.6, 3));
series.push(oscLine(seq(oscRed), '#ff5252', 3.2, 3));
series.push(oscLine(seq(oscBlue), '#2196f3', 3.2, 3));
series.push({
  type: 'line', data: seq(oscArea), xAxisIndex: 1, yAxisIndex: 2, symbol: 'none', silent: true,
  lineStyle: { width: 0 },
  areaStyle: { origin: 50, color: 'rgba(120,123,134,0.43)', opacity: 1 },
  z: 4
});
oscLevels.forEach(function(v, k) {
  series.push(oscLine([[-7, v], [121, v]], oscLevelColors[k], oscLevelWidths[k], 5));
});
series.push(oscDots(oscOrangeDots, '#ff9800', 5.5, 'circle', 6));
series.push(oscDots(forecastGray, '#9598a1', 5.5, 'diamond', 6));
series.push(oscDots(forecastBlue, BLUE, 4.4, 'rect', 6));
series.push(oscDots(forecastRed, '#f23645', 4.4, 'rect', 6));

// axis furniture and the stacked value tags
const gridX = 1868;
const graphicItems = [
  { type: 'rect', shape: { x: 8, y: 27, width: 1935, height: 808 }, style: { fill: 'none', stroke: '#f0f3fa', lineWidth: 2 }, z: 90 },
  { type: 'line', shape: { x1: gridX, y1: 27, x2: gridX, y2: 835 }, style: { stroke: '#d6d8de', lineWidth: 1 }, z: 90 },
  { type: 'line', shape: { x1: 9, y1: 569, x2: 1943, y2: 569 }, style: { stroke: '#e0e3eb', lineWidth: 1 }, z: 92 },
  { type: 'line', shape: { x1: 9, y1: 808, x2: 1943, y2: 808 }, style: { stroke: '#e0e3eb', lineWidth: 1 }, z: 90 },
  { type: 'text', x: 10, y: 15, style: { text: 'djr0726 published on TradingView.com, Jul 10, 2022 11:52 UTC-5', fill: INK, font: '12px ' + FONT, textVerticalAlign: 'middle' }, z: 95 },
  { type: 'text', x: 19, y: 41.5, style: { text: 'EURUSD, 3h, OANDA', fill: INK, font: '12px ' + FONT, textVerticalAlign: 'middle' }, z: 95 },
  { type: 'text', x: 1878, y: 41, style: { text: 'USD', fill: INK, font: '12px ' + FONT, textVerticalAlign: 'middle' }, z: 95 },
  { type: 'text', x: 34, y: 854, style: { text: 'TradingView', fill: INK, font: '14px ' + FONT, textVerticalAlign: 'middle' }, z: 95 },
  { type: 'polygon', shape: { points: [[10, 847], [19, 847], [19, 859], [15, 859], [15, 851], [10, 851]] }, style: { fill: INK }, z: 95 },
  { type: 'circle', shape: { cx: 22, cy: 849, r: 2 }, style: { fill: INK }, z: 95 },
  { type: 'polygon', shape: { points: [[25, 847], [29, 847], [24, 859], [20, 859]] }, style: { fill: INK }, z: 95 }
];

function addTag(text, centerY, width, bg, fg) {
  graphicItems.push({ type: 'rect', shape: { x: gridX, y: centerY - 8.5, width: width, height: 17 }, style: { fill: bg }, z: 93 });
  graphicItems.push({
    type: 'text', x: gridX + 10, y: centerY,
    style: { text: text, fill: fg, font: '12.5px ' + FONT, textVerticalAlign: 'middle' }, z: 94
  });
}
priceTags.forEach(function(t, k) {
  addTag(t, 214.7 + 17 * k, 59, priceTagBg[k], priceTagFg[k]);
});
addTag('17.972K', 506.3, 59, INK, '#fff');
addTag('5.972K', 547.7, 53, '#ff9800', INK);
addTag('5.972K', 564.7, 53, BLUE, '#fff');
// keeps the clipped volume tag from spilling into the oscillator pane
graphicItems.push({ type: 'rect', shape: { x: gridX + 1, y: 569.5, width: 70, height: 6 }, style: { fill: '#fff' }, z: 95 });
oscTags.forEach(function(t, k) {
  addTag(t, oscTagY[k], 65, oscTagBg[k], oscTagFg[k]);
});

const option = {
  animation: false,
  backgroundColor: '#fff',
  textStyle: { fontFamily: FONT },
  grid: [
    { left: 9, width: 1859, top: 27, height: 542 },
    { left: 9, width: 1859, top: 569, height: 239 }
  ],
  xAxis: [
    {
      type: 'value', gridIndex: 0, min: -6.19, max: 120.7,
      axisLine: { show: false },
      axisTick: { show: false, customValues: dayBars },
      axisLabel: { show: false, customValues: dayBars },
      splitLine: { show: true, lineStyle: { color: '#f0f3fa', width: 1 } }
    },
    {
      type: 'value', gridIndex: 1, min: -6.19, max: 120.7,
      axisLine: { show: false },
      axisTick: { show: false, customValues: dayBars },
      axisLabel: {
        customValues: dayBars, margin: 8, color: INK, fontSize: 13, fontFamily: FONT,
        formatter: function(v) { return dayLabels[dayBars.indexOf(v)] || ''; }
      },
      splitLine: { show: true, lineStyle: { color: '#f0f3fa', width: 1 } }
    }
  ],
  yAxis: [
    {
      type: 'value', gridIndex: 0, position: 'right', min: 0.97112, max: 1.06638, scale: true,
      axisLine: { show: false },
      axisTick: { show: false, customValues: priceTicks },
      axisLabel: {
        customValues: priceTicks, margin: 10, color: INK, fontSize: 12.5, fontFamily: FONT,
        formatter: function(v) { return v.toFixed(5); }
      },
      splitLine: { show: true, lineStyle: { color: '#f0f3fa', width: 1 } }
    },
    {
      type: 'value', gridIndex: 0, position: 'right', min: 0, max: 155.4,
      axisLine: { show: false }, axisTick: { show: false }, axisLabel: { show: false }, splitLine: { show: false }
    },
    {
      type: 'value', gridIndex: 1, position: 'right', min: -15.7, max: 113.5,
      axisLine: { show: false },
      axisTick: { show: false, customValues: oscTicks },
      axisLabel: {
        customValues: oscTicks, margin: 10, color: INK, fontSize: 12.5, fontFamily: FONT,
        formatter: function(v) { return v.toFixed(5); }
      },
      splitLine: { show: false }
    }
  ],
  graphic: { elements: graphicItems },
  series: series
};

const chart = echarts.init(document.getElementById('chart'), null, { renderer: 'canvas' });
chart.setOption(option);
</script>
</body>
</html>
